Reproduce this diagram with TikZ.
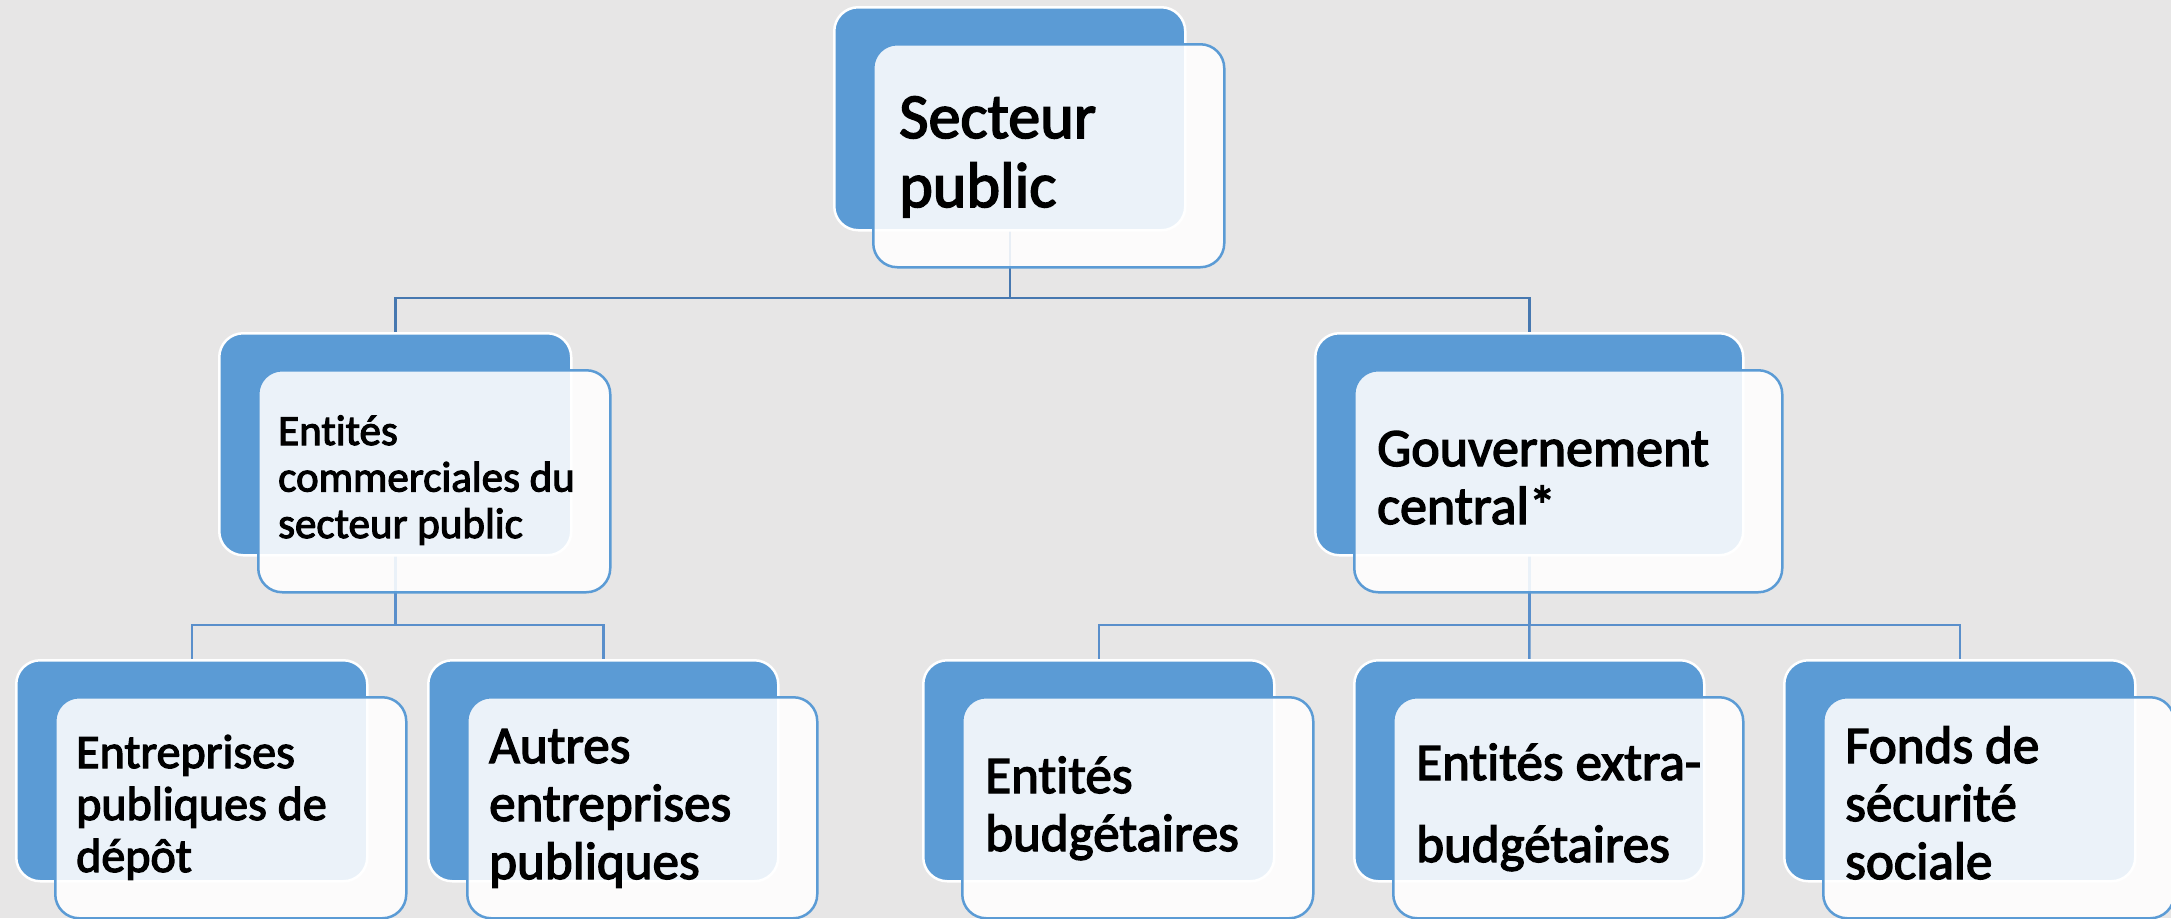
\documentclass[tikz,border=0pt]{standalone}
\usepackage{fontspec}
\setmainfont{Carlito}[FakeBold=2.6, RawFeature=-liga]
\definecolor{bgc}{HTML}{E7E6E6}
\definecolor{sblue}{HTML}{5B9BD5}
\definecolor{connA}{HTML}{4778B0}
\definecolor{connB}{HTML}{5A8FCB}
\pgfdeclarelayer{backlayer}
\pgfdeclarelayer{linelayer}
\pgfsetlayers{backlayer,linelayer,main}
\tikzset{
  backbox/.style={draw=white, line width=2.5bp, fill=sblue, rounded corners=24bp, anchor=north west, inner sep=0pt},
  frontbox/.style={draw=sblue, line width=2.5bp, fill=white, fill opacity=0.88, rounded corners=24bp, anchor=north west, inner sep=0pt},
  connone/.style={draw=connA, line width=2.5bp},
  conntwo/.style={draw=connB, line width=2.5bp},
  txt/.style={anchor=base west, align=left, inner sep=0pt, text=black},
}
\newcommand\orgbox[5]{%
  \node[backbox, minimum width=#4bp, minimum height=#5bp] (#1b) at (#2,#3) {};
  \node[frontbox, minimum width=#4bp, minimum height=#5bp] (#1f) at (#2+39,#3+37) {};
}
\begin{document}
\begin{tikzpicture}[x=1bp, y=-1bp]
\begin{pgfonlayer}{backlayer}
  \fill[bgc] (0,0) rectangle (2171,918);
\end{pgfonlayer}
\useasboundingbox (0,0) rectangle (2171,918);

% boxes
\orgbox{sp}{833}{6}{351}{223}
\orgbox{ec}{218}{332}{352}{222}
\orgbox{gc}{1314}{332}{428}{222}
\orgbox{ep}{15}{659}{351}{221}
\orgbox{ae}{427}{659}{350}{221}
\orgbox{eb}{922}{659}{351}{221}
\orgbox{ex}{1353}{659}{350}{221}
\orgbox{fs}{1783}{659}{351}{221}

% connectors
\coordinate (barone) at (0,298);
\coordinate (bartwo) at (0,625);
\begin{pgfonlayer}{linelayer}
  \draw[connone] (spb.center) -- (spb.center |- barone) -| (ecb.north);
  \draw[connone] (spb.center |- barone) -| (gcb.north);
  \draw[conntwo] (ecb.center) -- (ecb.center |- bartwo) -| (epb.north);
  \draw[conntwo] (ecb.center |- bartwo) -| (aeb.north);
  \draw[conntwo] (gcb.center) -- (gcb.center |- bartwo) -| (ebb.north);
  \draw[conntwo] (gcb.center |- bartwo) -- (exb.north);
  \draw[conntwo] (gcb.center |- bartwo) -| (fsb.north);
\end{pgfonlayer}

% texts (anchored at the baseline of the last line)
\node[txt, font=\fontsize{64bp}{69bp}\selectfont] (spt) at (899,207) {Secteur\\public};
\node[txt, font=\fontsize{43bp}{46.5bp}\selectfont] (ect) at (278,538) {Entités\\commerciales du\\secteur public};
\node[txt, font=\fontsize{54bp}{58bp}\selectfont] (gct) at (1377,524) {Gouvernement\\central*};
\node[txt, font=\fontsize{48bp}{52bp}\selectfont] (ept) at (76,872) {Entreprises\\publiques de\\dépôt};
\node[txt, font=\fontsize{53bp}{58bp}\selectfont] (aet) at (489,879) {Autres\\entreprises\\publiques};
\node[txt, font=\fontsize{53bp}{58bp}\selectfont] (ebt) at (985,851) {Entités\\budgétaires};
\node[txt, font=\fontsize{53bp}{82bp}\selectfont] (ext) at (1416,862) {Entités extra-\\budgétaires};
\node[txt, font=\fontsize{53bp}{58bp}\selectfont] (fst) at (1845,879) {Fonds de\\sécurité\\sociale};
\end{tikzpicture}
\end{document}
